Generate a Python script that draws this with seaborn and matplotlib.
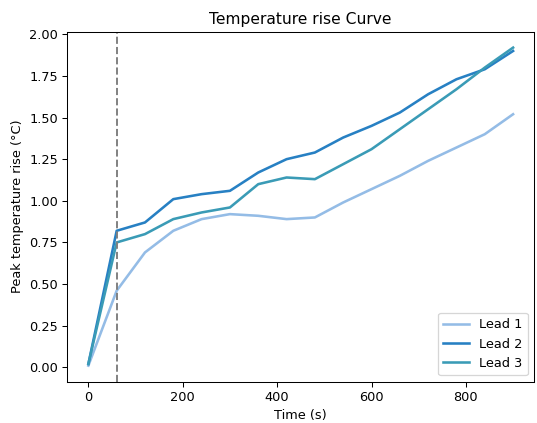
import matplotlib
matplotlib.use("Agg")
import matplotlib.pyplot as plt
import seaborn as sns
import pandas as pd

time_s = [0, 60, 120, 180, 240, 300, 360, 420, 480, 540, 600, 660, 720, 780, 840, 900]
lead1 = [0.01, 0.46, 0.69, 0.82, 0.89, 0.92, 0.91, 0.89, 0.90, 0.99, 1.07, 1.15, 1.24, 1.32, 1.40, 1.52]
lead2 = [0.02, 0.82, 0.87, 1.01, 1.04, 1.06, 1.17, 1.25, 1.29, 1.38, 1.45, 1.53, 1.64, 1.73, 1.79, 1.90]
lead3 = [0.02, 0.75, 0.80, 0.89, 0.93, 0.96, 1.10, 1.14, 1.13, 1.22, 1.31, 1.43, 1.55, 1.67, 1.80, 1.92]
series_names = ["Lead 1", "Lead 2", "Lead 3"]
colors = ["#94bce6", "#2780c3", "#3a9bb6"]
marker_time = 60

rows = []
for name, vals in zip(series_names, [lead1, lead2, lead3]):
    for t, v in zip(time_s, vals):
        rows.append({"Time (s)": t, "value": v, "series": name})
df = pd.DataFrame(rows)

DPI = 92.8
fig, ax = plt.subplots(figsize=(537 / DPI, 423 / DPI), dpi=DPI)
fig.subplots_adjust(left=0.125, right=0.995, top=0.925, bottom=0.098)

sns.lineplot(data=df, x="Time (s)", y="value", hue="series",
             palette=dict(zip(series_names, colors)), linewidth=2, ax=ax)
ax.axvline(marker_time, color="gray", linestyle="--", linewidth=1.5)

ax.set_title("Temperature rise Curve")
ax.set_xlabel("Time (s)")
ax.set_ylabel("Peak temperature rise (°C)")
ax.set_yticks([0, 0.25, 0.5, 0.75, 1.0, 1.25, 1.5, 1.75, 2.0])
ax.legend(loc="lower right", title=None)

fig.savefig("out.png", dpi=DPI)
